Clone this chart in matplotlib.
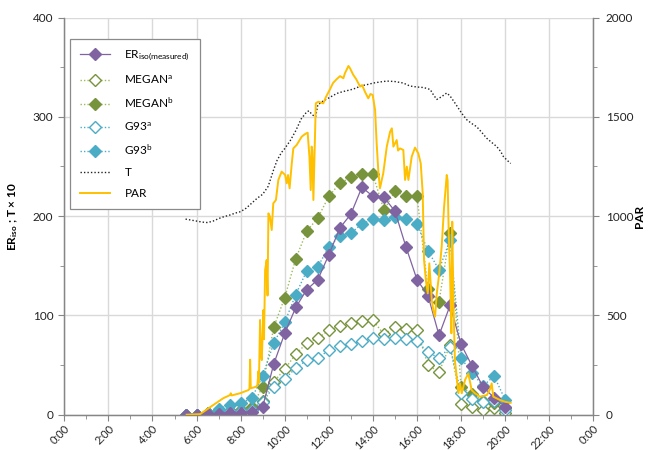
import matplotlib
matplotlib.use("Agg")
import matplotlib.pyplot as plt
from matplotlib.ticker import MultipleLocator, FixedLocator

plt.rcParams['font.family'] = ['Lato', 'DejaVu Sans']
plt.rcParams['mathtext.fontset'] = 'custom'
plt.rcParams['mathtext.rm'] = 'Lato'
plt.rcParams['mathtext.it'] = 'Lato:italic'
plt.rcParams['mathtext.bf'] = 'Lato:bold'

# ---- data ----
hours = [5.5, 6.0, 6.5, 7.0, 7.5, 8.0, 8.5, 9.0, 9.5, 10.0, 10.5, 11.0, 11.5, 12.0, 12.5,
         13.0, 13.5, 14.0, 14.5, 15.0, 15.5, 16.0, 16.5, 17.0, 17.5, 18.0, 18.5, 19.0, 19.5, 20.0]
er_measured = [0, 0, 1, 1, 2, 2, 3, 8, 51, 82, 108, 126, 136, 161, 188,
               202, 229, 220, 219, 205, 169, 136, 120, 80, 110, 71, 49, 28, 17, 8]
megan_a = [0, 0, 2, 3, 4, 4.4, 5.4, 14, 33, 46, 61, 72, 77, 85, 89,
           92, 94, 95, 81, 88, 86, 85, 50, 43, 70, 11, 8, 5, 7, 2]
megan_b = [0, 0, 2, 3, 4, 5, 8, 28, 88, 118, 157, 185, 198, 220, 233,
           239, 242, 242, 206, 225, 220, 220, 127, 114, 183, 28, 21, 14, 12, 7]
g93_a = [0, 0, 1, 2, 4, 4, 5, 13, 28, 36, 47, 55, 57, 65, 69,
         71, 74, 77, 76, 77, 76, 74, 63, 57, 68, 22, 16, 13, 14, 5]
g93_b = [0, 0, 2, 6, 10, 11.5, 16.5, 39, 72, 93, 121, 145, 149, 169, 180,
         183, 192, 197, 196, 199, 197, 192, 165, 146, 176, 57, 42, 29, 39, 15]

t_hours = [5.5, 5.75, 6.0, 6.25, 6.5, 6.75, 7.0, 7.25, 7.5, 7.75, 8.0, 8.25, 8.5, 8.75, 9.0,
           9.25, 9.5, 9.65, 9.85, 10.0, 10.25, 10.5, 10.75, 11.0, 11.1, 11.25, 11.4, 11.5,
           11.75, 12.0, 12.36, 12.5, 12.75, 12.96, 13.25, 13.42, 13.75, 14.02, 14.3, 14.63,
           15.0, 15.38, 15.68, 16.0, 16.3, 16.6, 16.75, 16.9, 17.1, 17.35, 17.5, 17.75,
           18.03, 18.26, 18.5, 18.71, 18.95, 19.16, 19.4, 19.62, 19.8, 19.92, 20.1, 20.25]
temp_x10 = [197, 196, 195, 194, 193.5, 195, 197.5, 199.5, 201, 203, 204.5, 208, 213, 218, 222,
            230, 247, 256, 264, 268, 276, 286, 298, 305, 306, 302, 300, 312,
            316, 319, 323.5, 324.5, 326, 327, 329, 331, 332.5, 334, 335, 336,
            335.5, 334, 331, 330, 329.5, 327.5, 322, 317.5, 320, 324, 321, 313,
            303.5, 297, 293, 290, 284, 278.5, 274, 270, 265, 260, 256, 253]

par_hours = [5.55, 6.16, 6.76, 7.21, 7.52, 7.55, 7.59, 7.97, 8.35, 8.40, 8.43, 8.46, 8.70, 8.76,
             8.81, 8.83, 8.88, 8.92, 8.96, 9.03, 9.06, 9.11, 9.18, 9.22, 9.26, 9.33, 9.41, 9.48,
             9.60, 9.71, 9.86, 10.02, 10.09, 10.15, 10.22, 10.32, 10.39, 10.54, 10.77, 10.92,
             11.04, 11.12, 11.18, 11.22, 11.25, 11.30, 11.35, 11.41, 11.52, 11.75, 11.87, 12.06,
             12.19, 12.36, 12.51, 12.66, 12.73, 12.89, 12.96, 13.11, 13.24, 13.42, 13.51, 13.64,
             13.79, 13.89, 13.99, 14.10, 14.17, 14.25, 14.32, 14.47, 14.63, 14.78, 14.86, 14.93,
             15.08, 15.14, 15.23, 15.38, 15.46, 15.54, 15.61, 15.76, 15.91, 16.06, 16.17, 16.26,
             16.32, 16.41, 16.49, 16.56, 16.67, 16.74, 16.82, 16.90, 17.01, 17.12, 17.23, 17.35,
             17.39, 17.44, 17.50, 17.56, 17.60, 17.65, 17.72, 17.80, 17.88, 17.95, 18.03, 18.18,
             18.33, 18.48, 18.63, 18.86, 19.17, 19.32, 19.39, 19.46, 19.77, 20.00, 20.25]
par = [0, 3, 49, 83, 99, 108, 97, 108, 124, 130, 277, 133, 141, 150,
       220, 160, 477, 300, 275, 527, 380, 729, 779, 600, 1014, 997, 930, 1064,
       1081, 1182, 1224, 1207, 1165, 1207, 1140, 1266, 1341, 1358, 1400, 1413,
       1420, 1299, 1131, 1350, 1333, 1081, 1300, 1568, 1576, 1568, 1600, 1640,
       1670, 1690, 1705, 1694, 1719, 1756, 1745, 1711, 1690, 1652, 1660, 1626,
       1593, 1615, 1610, 1534, 1367, 1220, 1140, 1216, 1350, 1425, 1442, 1350,
       1383, 1330, 1341, 1333, 1182, 1249, 1182, 1299, 1345, 1316, 1266, 1115,
       779, 670, 611, 762, 578, 527, 494, 611, 712, 846, 1047, 1207,
       1180, 913, 712, 410, 972, 578, 275, 191, 108, 158, 108, 175,
       208, 124, 108, 91, 99, 130, 158, 91, 74, 65, 60]

xtick_hours = list(range(0, 25, 2))
xtick_labels = ["0:00", "2:00", "4:00", "6:00", "8:00", "10:00", "12:00", "14:00",
                "16:00", "18:00", "20:00", "22:00", "0:00"]

# ---- styles ----
PURPLE = '#8064A2'
GREEN = '#77933C'
GREEN_L = '#9BBB59'
CYAN = '#4BACC6'
ORANGE = '#FFC000'
SPINE = '#868686'
GRID = '#D9D9D9'

fig = plt.figure(figsize=(6.49, 4.5), dpi=100)
ax = fig.add_axes([0.0991, 0.0784, 0.8151, 0.8827])
ax2 = ax.twinx()

ms = 6.5
l_er, = ax.plot(hours, er_measured, color=PURPLE, lw=0.9, marker='D', ms=ms,
                mfc=PURPLE, mec=PURPLE, label=r'ER$_{\mathrm{iso(measured)}}$', zorder=5)
l_ma, = ax.plot(hours, megan_a, color=GREEN_L, lw=1.0, ls=(0, (1, 1.5)), marker='D', ms=ms,
                mfc='white', mec=GREEN, mew=1.0, label=r'MEGAN$^{\mathrm{a}}$', zorder=4)
l_mb, = ax.plot(hours, megan_b, color=GREEN_L, lw=1.0, ls=(0, (1, 1.5)), marker='D', ms=ms,
                mfc=GREEN, mec=GREEN, label=r'MEGAN$^{\mathrm{b}}$', zorder=4)
l_ga, = ax.plot(hours, g93_a, color=CYAN, lw=1.0, ls=(0, (1, 1.5)), marker='D', ms=ms,
                mfc='white', mec=CYAN, mew=1.0, label=r'G93$^{\mathrm{a}}$', zorder=4)
l_gb, = ax.plot(hours, g93_b, color=CYAN, lw=1.0, ls=(0, (1, 1.5)), marker='D', ms=ms,
                mfc=CYAN, mec=CYAN, label=r'G93$^{\mathrm{b}}$', zorder=4)
l_t, = ax.plot(t_hours, temp_x10, color='#222222', lw=1.0, ls=(0, (1, 1.5)), label='T', zorder=3)
l_par, = ax2.plot(par_hours, par, color=ORANGE, lw=1.4, label='PAR', zorder=3)

ax.set_xlim(0, 24)
ax.set_ylim(0, 400)
ax2.set_ylim(0, 2000)

ax.xaxis.set_major_locator(FixedLocator(xtick_hours))
ax.set_xticklabels(xtick_labels, rotation=45, ha='right', rotation_mode='anchor')
ax.xaxis.set_minor_locator(MultipleLocator(1))
ax.yaxis.set_major_locator(MultipleLocator(100))
ax.yaxis.set_minor_locator(MultipleLocator(50))
ax2.yaxis.set_major_locator(MultipleLocator(500))
ax2.yaxis.set_minor_locator(MultipleLocator(250))

ax.grid(True, which='major', color=GRID, lw=1.0)
ax.set_axisbelow(True)

for a in (ax, ax2):
    a.spines['top'].set_visible(False)
    for s in ('left', 'right', 'bottom'):
        a.spines[s].set_color(SPINE)
        a.spines[s].set_linewidth(0.9)
    a.tick_params(which='both', direction='out', color=SPINE, labelsize=8.5, colors='#222222')
    a.tick_params(which='major', length=4)
    a.tick_params(which='minor', length=3)
    a.tick_params(which='both', color=SPINE)

ax.tick_params(axis='x', pad=2, labelsize=8)
ax.tick_params(axis='y', pad=4)
ax2.tick_params(axis='y', pad=5)

ax.set_ylabel(r'ER$_{\mathbf{iso}}$ ; T × 10', fontsize=8.5, fontweight='bold')
ax.yaxis.set_label_coords(-0.083, 0.5)
ax2.set_ylabel('PAR', fontsize=8.5, fontweight='bold')
ax2.yaxis.set_label_coords(1.076, 0.5)

handles = [l_er, l_ma, l_mb, l_ga, l_gb, l_t, l_par]
leg = ax2.legend(handles=handles, loc='upper left', bbox_to_anchor=(0.011, 0.945),
                 borderaxespad=0, fontsize=8.5, frameon=True, fancybox=False,
                 edgecolor='#8a8a8a', framealpha=1, handlelength=2.6, labelspacing=0.85,
                 borderpad=0.8, handletextpad=1.2)
leg.get_frame().set_linewidth(0.9)

fig.savefig('out.png', dpi=100)
